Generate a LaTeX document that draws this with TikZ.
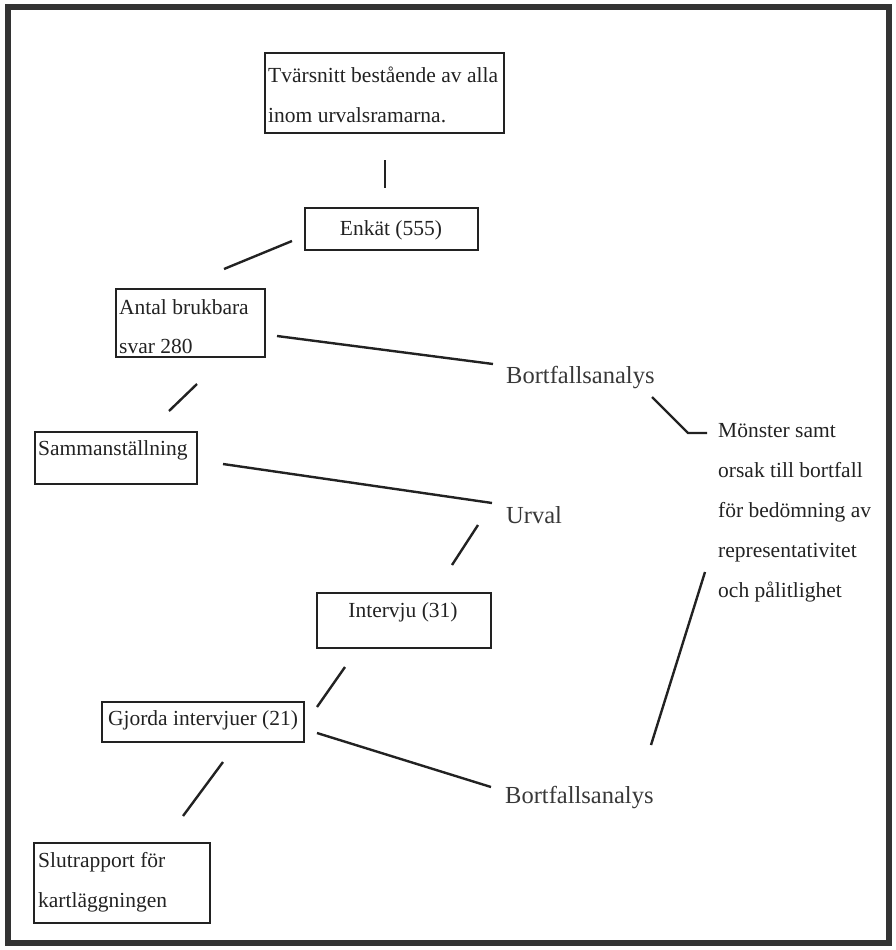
\documentclass[tikz,border=0pt]{standalone}
\usepackage{fontspec}
\setmainfont{Liberation Serif}
\definecolor{ink}{HTML}{222222}
\definecolor{frame}{HTML}{333333}
\begin{document}
\begin{tikzpicture}[x=1pt,y=-1pt,
  box/.style={draw=ink, line width=1.8pt, anchor=north west, inner sep=0pt, outer sep=0pt},
  txt/.style={anchor=base west, inner sep=0pt, text=ink, font=\fontsize{21.5}{40}\selectfont, align=left},
  big/.style={anchor=base west, inner sep=0pt, text=ink!90, font=\fontsize{24.5}{30}\selectfont},
  conn/.style={draw=ink, line width=2.4pt}]
\useasboundingbox (0,0) rectangle (895,950);
\draw[frame, line width=6.5pt] (8,7) rectangle (889,943);
% boxes
\node[box, minimum width=239pt, minimum height=80pt] (tv) at (265,53) {};
\node[box, minimum width=173pt, minimum height=42pt] (enk) at (305,208) {};
\node[box, minimum width=149pt, minimum height=68pt] (ant) at (116,289) {};
\node[box, minimum width=162pt, minimum height=52pt] (sam) at (35,432) {};
\node[box, minimum width=174pt, minimum height=55pt] (int) at (317,593) {};
\node[box, minimum width=202pt, minimum height=40pt] (gjo) at (102,702) {};
\node[box, minimum width=176pt, minimum height=80pt] (slu) at (34,843) {};
% box texts
\node[txt] (tvt1) at (268,82) {Tvärsnitt bestående av alla};
\node[txt] (tvt2) at (268,122) {inom urvalsramarna.};
\node[txt, anchor=base] (enkt) at (391,235) {Enkät (555)};
\node[txt] (antt1) at (119,314) {Antal brukbara};
\node[txt] (antt2) at (119,353) {svar 280};
\node[txt] (samt) at (38,455) {Sammanställning};
\node[txt, anchor=base] (intt) at (403,617) {Intervju (31)};
\node[txt, anchor=base] (gjot) at (203,725) {Gjorda intervjuer (21)};
\node[txt] (slut1) at (38,867) {Slutrapport för};
\node[txt] (slut2) at (38,907) {kartläggningen};
% free labels
\node[big] (bf1) at (506,383) {Bortfallsanalys};
\node[big] (urv) at (506,523) {Urval};
\node[big] (bf2) at (505,803) {Bortfallsanalys};
\node[txt] (m1) at (718,437) {Mönster samt};
\node[txt] (m2) at (718,477) {orsak till bortfall};
\node[txt] (m3) at (718,517) {för bedömning av};
\node[txt] (m4) at (718,557) {representativitet};
\node[txt] (m5) at (718,597) {och pålitlighet};
% connector end points
\coordinate (a1) at (385,160); \coordinate (a2) at (385,188);
\coordinate (b1) at (224,269); \coordinate (b2) at (292,241);
\coordinate (c1) at (277,336); \coordinate (c2) at (493,364);
\coordinate (d1) at (169,411); \coordinate (d2) at (197,384);
\coordinate (e1) at (223,464); \coordinate (e2) at (492,503);
\coordinate (f1) at (478,525); \coordinate (f2) at (452,565);
\coordinate (g1) at (652,397); \coordinate (g2) at (688,433); \coordinate (g3) at (707,433);
\coordinate (h1) at (705,572); \coordinate (h2) at (651,745);
\coordinate (i1) at (317,707); \coordinate (i2) at (345,667);
\coordinate (j1) at (317,733); \coordinate (j2) at (491,787);
\coordinate (k1) at (223,762); \coordinate (k2) at (183,816);
\draw[conn] (a1) -- (a2);
\draw[conn] (b1) -- (b2);
\draw[conn] (c1) -- (c2);
\draw[conn] (d1) -- (d2);
\draw[conn] (e1) -- (e2);
\draw[conn] (f1) -- (f2);
\draw[conn] (g1) -- (g2) -- (g3);
\draw[conn] (h1) -- (h2);
\draw[conn] (i1) -- (i2);
\draw[conn] (j1) -- (j2);
\draw[conn] (k1) -- (k2);
\end{tikzpicture}
\end{document}
